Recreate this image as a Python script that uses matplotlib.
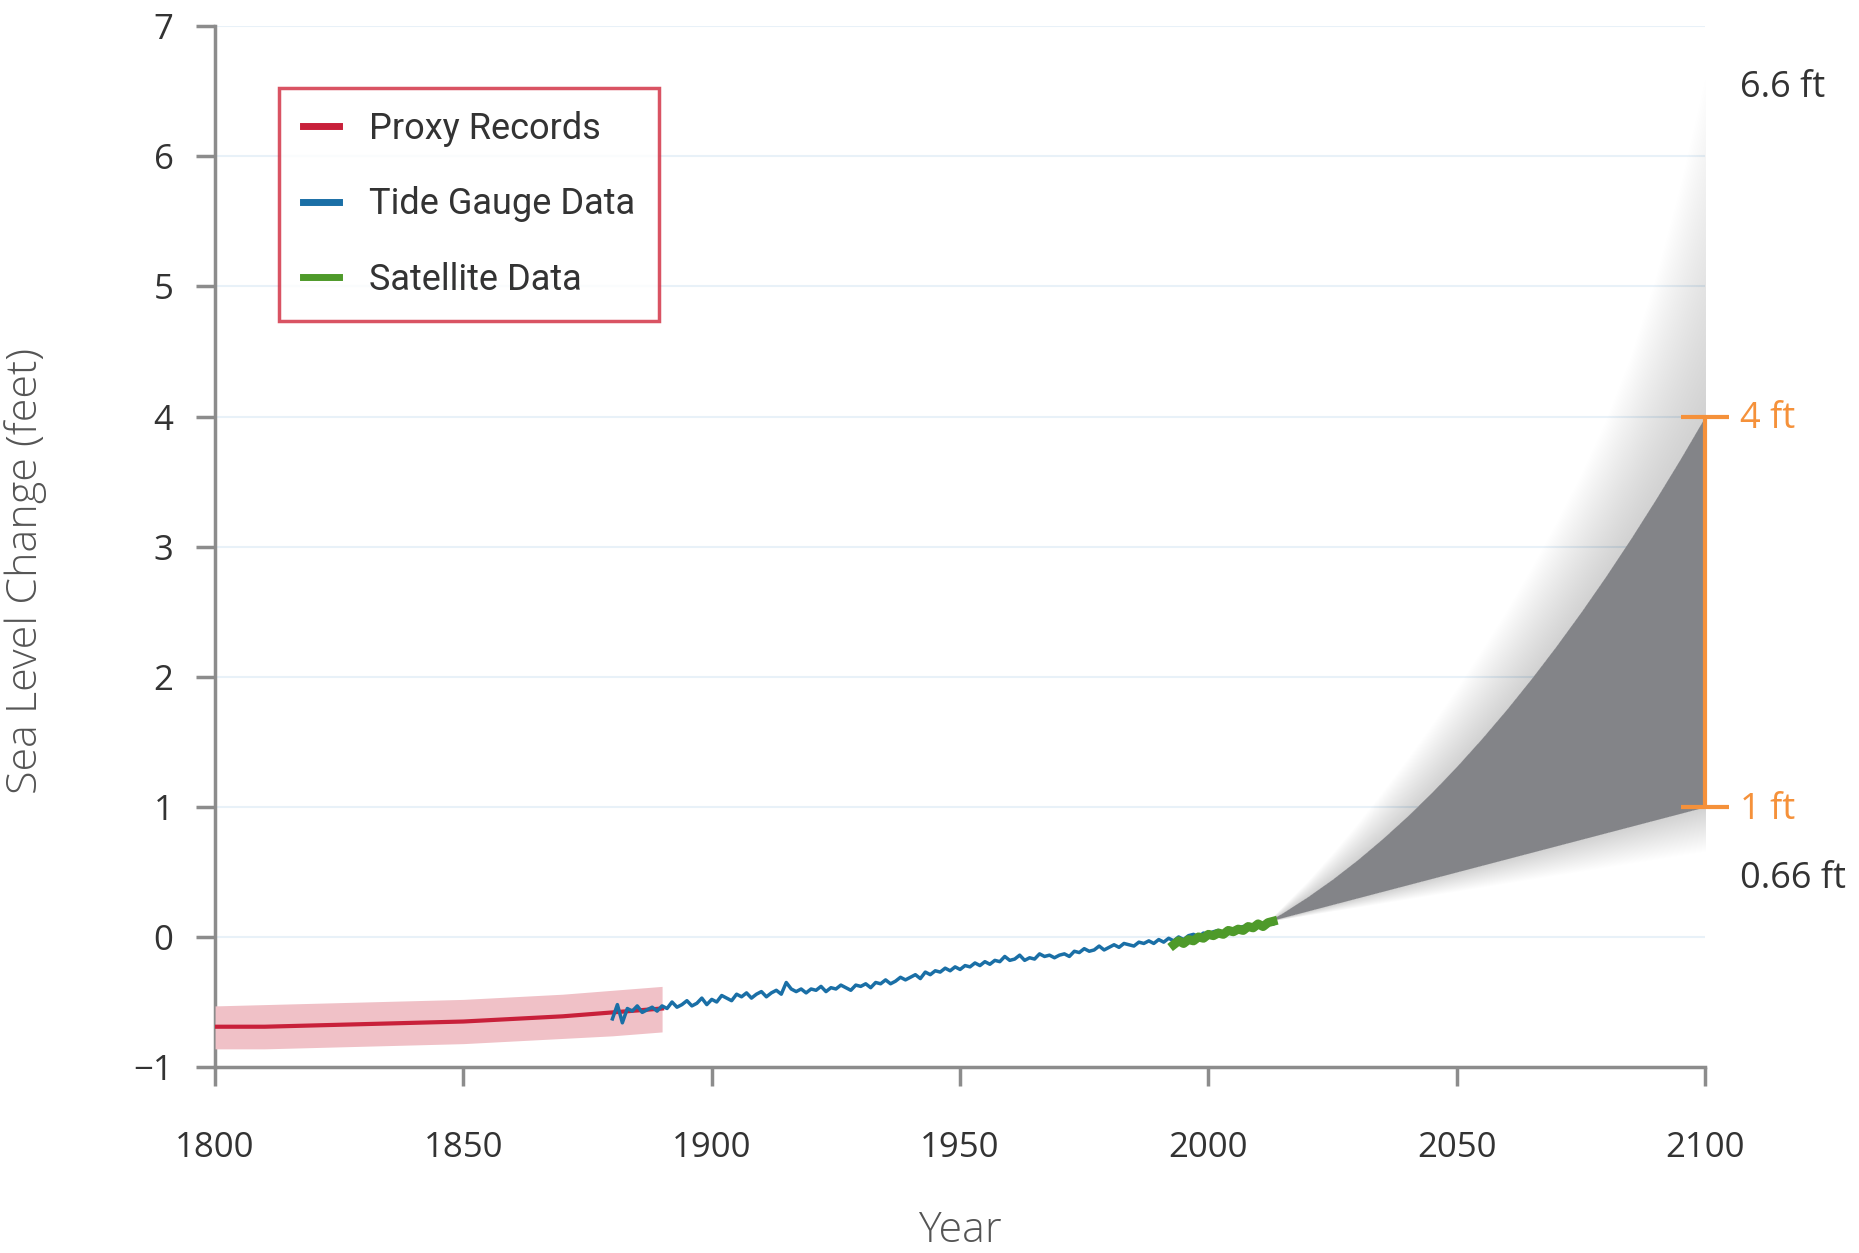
import matplotlib
matplotlib.use('Agg')
import matplotlib.pyplot as plt
import numpy as np

# donnees
proxy_years = [1800, 1810, 1820, 1830, 1840, 1850, 1860, 1870, 1880, 1890]
proxy_mean = [-0.69, -0.69, -0.68, -0.67, -0.66, -0.65, -0.63, -0.61, -0.58, -0.55]
proxy_low = [-0.86, -0.86, -0.85, -0.84, -0.83, -0.82, -0.80, -0.78, -0.76, -0.73]
proxy_high = [-0.53, -0.52, -0.51, -0.50, -0.49, -0.48, -0.46, -0.44, -0.41, -0.38]

tide_years = list(range(1880, 2014))
tide_values = [
    -0.63, -0.52, -0.66, -0.55, -0.57, -0.53, -0.58, -0.56, -0.54, -0.57,
    -0.53, -0.55, -0.50, -0.54, -0.52, -0.49, -0.53, -0.51, -0.47, -0.52,
    -0.48, -0.50, -0.45, -0.47, -0.49, -0.44, -0.46, -0.43, -0.47, -0.44,
    -0.42, -0.46, -0.43, -0.41, -0.44, -0.35, -0.40, -0.42, -0.40, -0.43,
    -0.40, -0.41, -0.38, -0.42, -0.39, -0.40, -0.37, -0.39, -0.41, -0.37,
    -0.38, -0.36, -0.39, -0.35, -0.36, -0.33, -0.36, -0.34, -0.31, -0.33,
    -0.31, -0.29, -0.32, -0.27, -0.29, -0.26, -0.27, -0.24, -0.26, -0.23,
    -0.25, -0.22, -0.23, -0.20, -0.22, -0.19, -0.21, -0.18, -0.19, -0.15,
    -0.18, -0.17, -0.14, -0.18, -0.16, -0.17, -0.13, -0.15, -0.14, -0.16,
    -0.14, -0.13, -0.15, -0.11, -0.12, -0.09, -0.11, -0.10, -0.07, -0.10,
    -0.08, -0.06, -0.08, -0.05, -0.06, -0.07, -0.04, -0.05, -0.03, -0.05,
    -0.02, -0.04, -0.01, -0.03, 0.00, -0.02, 0.01, 0.02, 0.00, 0.03,
    0.02, 0.04, 0.05, 0.03, 0.06, 0.05, 0.07, 0.08, 0.06, 0.09,
    0.10, 0.08, 0.11, 0.10]

sat_years = list(range(1993, 2014))
sat_values = [-0.06, -0.03, -0.05, -0.02, -0.03, 0.00, -0.01, 0.02, 0.01, 0.03,
              0.02, 0.05, 0.04, 0.06, 0.05, 0.08, 0.07, 0.10, 0.08, 0.11, 0.12]

proj_years = [2012, 2015, 2020, 2025, 2030, 2035, 2040, 2045, 2050, 2055,
              2060, 2065, 2070, 2075, 2080, 2085, 2090, 2095, 2100]
proj_low = [0.12, 0.15, 0.20, 0.25, 0.30, 0.35, 0.40, 0.45, 0.50, 0.55,
            0.60, 0.65, 0.70, 0.75, 0.80, 0.85, 0.90, 0.95, 1.00]
proj_high = [0.12, 0.187, 0.310, 0.445, 0.593, 0.754, 0.927, 1.113, 1.312, 1.524,
             1.748, 1.985, 2.235, 2.497, 2.772, 3.060, 3.361, 3.674, 4.00]
proj_max = [0.12, 0.237, 0.43, 0.645, 0.873, 1.114, 1.367, 1.633, 1.912, 2.204,
            2.508, 2.835, 3.185, 3.557, 3.972, 4.46, 5.061, 5.774, 6.60]
proj_min = [0.12, 0.138, 0.169, 0.20, 0.23, 0.261, 0.292, 0.323, 0.353, 0.384,
            0.415, 0.445, 0.476, 0.506, 0.537, 0.568, 0.598, 0.629, 0.66]

x_ticks = [1800, 1850, 1900, 1950, 2000, 2050, 2100]
y_ticks = [-1, 0, 1, 2, 3, 4, 5, 6, 7]

plt.rcParams['font.family'] = ['Open Sans', 'DejaVu Sans']

fig = plt.figure(figsize=(18.59, 12.53), dpi=100)
ax = fig.add_axes([0.1157, 0.1484, 0.8015, 0.8307])

ax.set_xlim(1800, 2100)
ax.set_ylim(-1, 7)

# lignes de grille tres claires
for yv in y_ticks[1:]:
    ax.axhline(yv, color='#e8f1f8', lw=1.5, zorder=0)

# degrade autour de la projection (plusieurs couches transparentes)
py = np.array(proj_years)
lo = np.array(proj_low)
hi = np.array(proj_high)
mx = np.array(proj_max)
mn = np.array(proj_min)
n = 45
for k in range(1, n + 1):
    f = k / n
    ax.fill_between(py, hi, hi + (mx - hi) * f, color='#86878b', alpha=0.0085,
                    lw=0, zorder=1)
    ax.fill_between(py, lo + (mn - lo) * f, lo, color='#86878b', alpha=0.006,
                    lw=0, zorder=1)

ax.fill_between(py, lo, hi, color='#838488', lw=0, zorder=2)

# enregistrements
ax.fill_between(proxy_years, proxy_low, proxy_high, color='#f0c1c7', lw=0, zorder=3)
ax.plot(proxy_years, proxy_mean, color='#c8203a', lw=3, label='Proxy Records', zorder=4)
ax.plot(tide_years, tide_values, color='#1a6fa6', lw=2.5, label='Tide Gauge Data', zorder=5)
ax.plot(sat_years, sat_values, color='#4e9a2a', lw=6.5, label='Satellite Data', zorder=6)

# crochet orange entre 1 ft et 4 ft
ax.errorbar([proj_years[-1]], [(proj_low[-1] + proj_high[-1]) / 2],
            yerr=[[(proj_high[-1] - proj_low[-1]) / 2]], fmt='none',
            ecolor='#f5913a', elinewidth=3, capsize=17, capthick=3,
            clip_on=False, zorder=7)

ax.annotate('6.6 ft', (proj_years[-1], proj_max[-1]), xytext=(25, -7),
            textcoords='offset points', va='center', ha='left',
            fontsize=26, color='#333333', annotation_clip=False)
ax.annotate('4 ft', (proj_years[-1], proj_high[-1]), xytext=(25, -2),
            textcoords='offset points', va='center', ha='left',
            fontsize=26, color='#f5913a', annotation_clip=False)
ax.annotate('1 ft', (proj_years[-1], proj_low[-1]), xytext=(25, -2),
            textcoords='offset points', va='center', ha='left',
            fontsize=26, color='#f5913a', annotation_clip=False)
ax.annotate('0.66 ft', (proj_years[-1], proj_min[-1]), xytext=(25, -20),
            textcoords='offset points', va='center', ha='left',
            fontsize=26, color='#333333', annotation_clip=False)

# axes
for s in ['top', 'right']:
    ax.spines[s].set_visible(False)
ax.spines['left'].set_color('#8c8c8c')
ax.spines['bottom'].set_color('#8c8c8c')
ax.spines['left'].set_linewidth(2.5)
ax.spines['bottom'].set_linewidth(2.5)
ax.set_xticks(x_ticks)
ax.set_yticks(y_ticks)
ax.set_yticklabels(['\u22121' if v < 0 else str(v) for v in y_ticks])
ax.tick_params(axis='both', colors='#8c8c8c', width=2.5, length=14,
               labelsize=25, labelcolor='#333333')
ax.tick_params(axis='y', pad=16)
ax.tick_params(axis='x', pad=32)

ax.set_xlabel('Year', fontsize=31, color='#555555', fontweight='light')
ax.set_ylabel('Sea Level Change (feet)', fontsize=31, color='#555555',
              fontweight='light')
ax.xaxis.set_label_coords(0.5, -0.137)
ax.yaxis.set_label_coords(-0.113, 0.477)

leg = ax.legend(loc='upper left', bbox_to_anchor=(0.043, 0.941), borderaxespad=0,
                fancybox=False, frameon=True, handlelength=1.0,
                handletextpad=0.85, labelspacing=1.09, borderpad=0.65,
                prop={'family': ['Roboto', 'DejaVu Sans'], 'size': 26})
leg.get_frame().set_edgecolor('#d0283c')
leg.get_frame().set_linewidth(2.5)
for t in leg.get_texts():
    t.set_color('#333333')
for l in leg.get_lines():
    l.set_linewidth(5)

fig.savefig('out.png', dpi=100)
